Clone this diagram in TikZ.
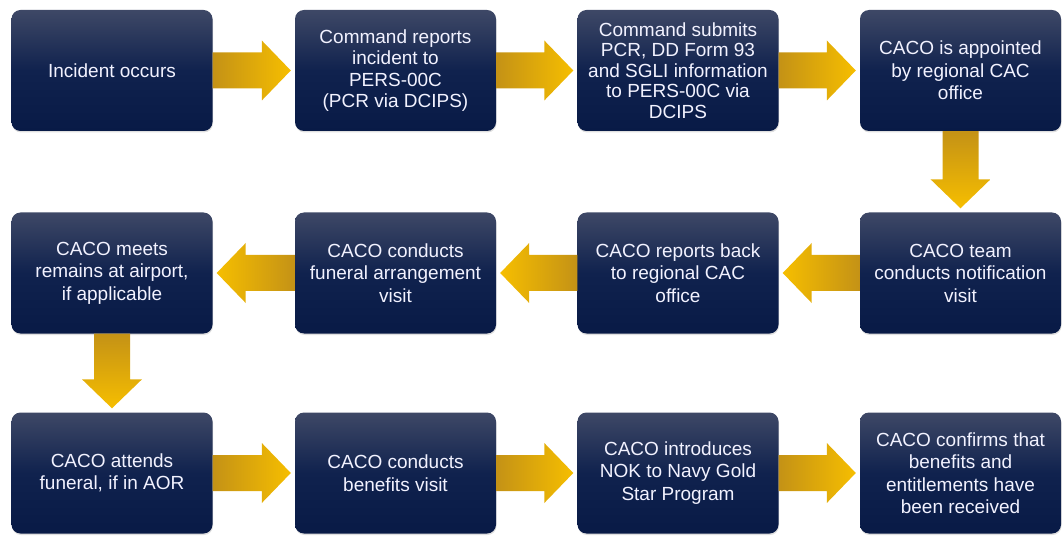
\documentclass[tikz,border=0pt]{standalone}
\usepackage{fontspec}
\setmainfont{Liberation Sans}
\usetikzlibrary{calc,shadows}
\definecolor{boxtop}{RGB}{62,72,102}
\definecolor{boxmid}{RGB}{16,34,78}
\definecolor{boxbot}{RGB}{8,26,70}
\definecolor{golddark}{RGB}{196,146,22}
\definecolor{goldlight}{RGB}{246,190,0}
\def\arrowright(#1)(#2){\shade[left color=golddark,right color=goldlight] ($(#1.east)+(0,-18)$) -- ($(#2.west)+(-33,-18)$) -- ($(#2.west)+(-33,-30)$) -- ($(#2.west)+(-4,0)$) -- ($(#2.west)+(-33,30)$) -- ($(#2.west)+(-33,18)$) -- ($(#1.east)+(0,18)$) -- cycle;}
\def\arrowleft(#1)(#2){\shade[left color=goldlight,right color=golddark] ($(#1.west)+(0,-18)$) -- ($(#2.east)+(33,-18)$) -- ($(#2.east)+(33,-30)$) -- ($(#2.east)+(4,0)$) -- ($(#2.east)+(33,30)$) -- ($(#2.east)+(33,18)$) -- ($(#1.west)+(0,18)$) -- cycle;}
\def\arrowdown(#1)(#2){\shade[top color=golddark,bottom color=goldlight] ($(#1.south)+(-18,0)$) -- ($(#2.north)+(-18,33)$) -- ($(#2.north)+(-30,33)$) -- ($(#2.north)+(0,4)$) -- ($(#2.north)+(30,33)$) -- ($(#2.north)+(18,33)$) -- ($(#1.south)+(18,0)$) -- cycle;}

\begin{document}
\begin{tikzpicture}[x=1pt,y=1pt,
	box/.style={rounded corners=9pt, minimum width=201pt, minimum height=121pt, inner sep=0pt,
		align=center, text=white!95!blue, top color=boxtop, bottom color=boxbot, middle color=boxmid,
		drop shadow={opacity=0.25,shadow xshift=0.5pt,shadow yshift=-1.5pt},
		font=\fontsize{19}{22.5}\selectfont}]
		%%%%% START %%%%%
		
		\useasboundingbox (0, 0) rectangle (1062, 536);
		
		% top row
		\node[box] (incident) at (112, 465.5) {Incident occurs};
		\node[box, font=\fontsize{19}{21.5}\selectfont] (reports) at (395.5, 465.5) {Command reports\\incident to\\PERS-00C\\(PCR via DCIPS)};
		\node[box, font=\fontsize{19}{20.5}\selectfont] (submits) at (678, 465.5) {Command submits\\PCR, DD Form 93\\and SGLI information\\to PERS-00C via\\DCIPS};
		\node[box] (appointed) at (960.5, 465.5) {CACO is appointed\\by regional CAC\\office};
		
		% middle row
		\node[box] (airport) at (112, 263) {CACO meets\\remains at airport,\\if applicable};
		\node[box] (funeral) at (395.5, 263) {CACO conducts\\funeral arrangement\\visit};
		\node[box] (reportback) at (678, 263) {CACO reports back\\to regional CAC\\office};
		\node[box] (notify) at (960.5, 263) {CACO team\\conducts notification\\visit};
		
		% bottom row
		\node[box] (attends) at (112, 63) {CACO attends\\funeral, if in AOR};
		\node[box] (benefits) at (395.5, 63) {CACO conducts\\benefits visit};
		\node[box] (goldstar) at (678, 63) {CACO introduces\\NOK to Navy Gold\\Star Program};
		\node[box] (confirms) at (960.5, 63) {CACO confirms that\\benefits and\\entitlements have\\been received};
		
		\arrowright(incident)(reports)
		\arrowright(reports)(submits)
		\arrowright(submits)(appointed)
		\arrowdown(appointed)(notify)
		\arrowleft(notify)(reportback)
		\arrowleft(reportback)(funeral)
		\arrowleft(funeral)(airport)
		\arrowdown(airport)(attends)
		\arrowright(attends)(benefits)
		\arrowright(benefits)(goldstar)
		\arrowright(goldstar)(confirms)
		
		%%%%% END %%%%%
	\end{tikzpicture}
\end{document}
